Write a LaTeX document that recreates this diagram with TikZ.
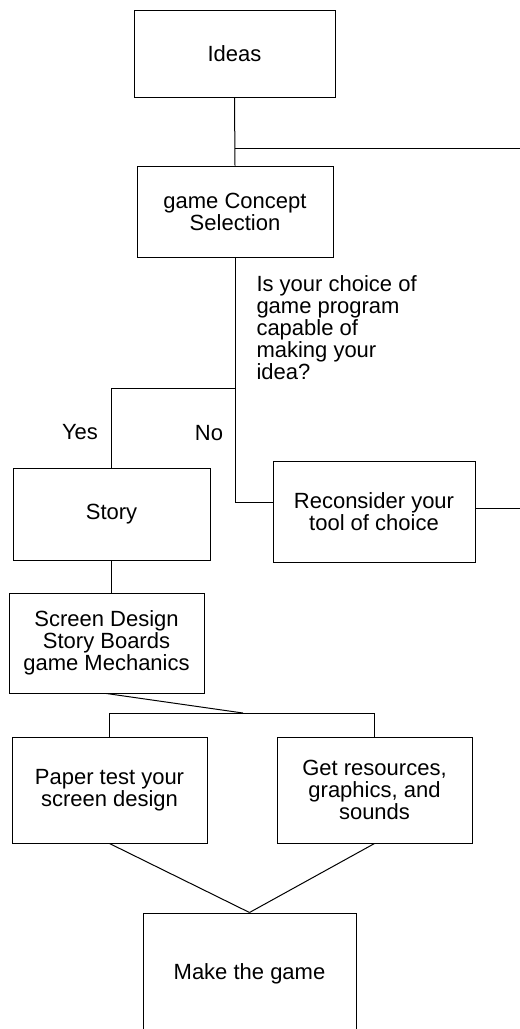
\documentclass[tikz,border=0pt]{standalone}
\usepackage{fontspec}
\setmainfont{Liberation Sans}
\usetikzlibrary{calc}
\tikzset{
    stepbox/.style={draw, line width=0.75pt, align=center, inner sep=0pt,
        font=\fontsize{16.5}{16.5}\selectfont},
    label/.style={inner sep=0pt, font=\fontsize{16.5}{16.5}\selectfont}
}
\begin{document}
\begin{tikzpicture}[x=0.75pt, y=-0.75pt, line width=0.75pt]
                \useasboundingbox (0,0) rectangle (520,1029);
                \clip (0,0) rectangle (520,1029);
                
                \node[stepbox, minimum width=150.75pt, minimum height=65.25pt] (ideas) at (234.5,53.5) {Ideas};
                \node[stepbox, minimum width=147pt, minimum height=68.25pt] (concept) at (235,211.5) {game Concept\\Selection};
                \node[stepbox, minimum width=147.75pt, minimum height=69pt] (story) at (111.5,514) {Story};
                \node[stepbox, minimum width=151.5pt, minimum height=75.75pt] (reconsider) at (374,511.5) {Reconsider your\\tool of choice};
                \node[stepbox, minimum width=146.25pt, minimum height=75pt] (screen) at (106.5,643) {Screen Design\\Story Boards\\game Mechanics};
                \node[stepbox, minimum width=146.25pt, minimum height=79.5pt] (paper) at (109.5,790) {Paper test your\\screen design};
                \node[stepbox, minimum width=146.25pt, minimum height=79.5pt] (get) at (374.5,790) {Get resources,\\graphics, and\\sounds};
                \node[stepbox, minimum width=159.75pt, minimum height=91.5pt] (make) at (249.5,974) {Make the game};
                
                \node[label, anchor=north west, align=left] (question) at (256,275)
                {Is your choice of\\game program\\capable of\\making your\\idea?};
                \node[label] (yes) at (80,432) {Yes};
                \node[label] (no) at (209,433) {No};
                
                \coordinate (edgetop) at (520,148);
                \coordinate (edgemid) at (520,508);
                \coordinate (fork) at (233,388);
                \coordinate (split) at (243,713);
                
                \draw (ideas.south) -- (concept.north);
                \draw (ideas.south |- edgetop) -- (edgetop);
                
                \draw (concept.south) |- ($(reconsider.west)+(0,-9.5)$);
                \draw (concept.south |- fork) -| (story.north);
                \draw (reconsider.east |- edgemid) -- (edgemid);
                
                \draw (story.south) -- (story.south |- screen.north);
                \draw (screen.south) -- (split);
                \draw (paper.north) |- (split) -| (get.north);
                
                \draw (paper.south) -- (make.north);
                \draw (get.south) -- (make.north);
            \end{tikzpicture}
\end{document}
